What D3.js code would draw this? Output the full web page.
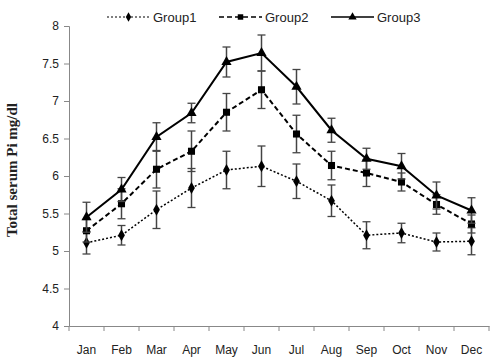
<!DOCTYPE html>
<html><head><meta charset="utf-8">
<script src="https://cdn.jsdelivr.net/npm/d3@7"></script>
<style>body{margin:0;background:#fff}</style>
</head><body>
<svg id="c" width="491" height="363"></svg>
<script>
const months = ["Jan","Feb","Mar","Apr","May","Jun","Jul","Aug","Sep","Oct","Nov","Dec"];
const group1 = [5.11,5.21,5.55,5.84,6.08,6.13,5.93,5.67,5.21,5.24,5.12,5.13];
const group1Err = [0.15,0.13,0.25,0.26,0.25,0.27,0.23,0.21,0.18,0.13,0.12,0.18];
const group2 = [5.27,5.63,6.09,6.33,6.85,7.15,6.56,6.14,6.04,5.92,5.62,5.36];
const group2Err = [0.15,0.2,0.25,0.27,0.25,0.25,0.25,0.19,0.18,0.12,0.13,0.12];
const group3 = [5.45,5.82,6.52,6.84,7.52,7.64,7.19,6.61,6.23,6.13,5.74,5.54];
const group3Err = [0.2,0.16,0.19,0.13,0.2,0.24,0.23,0.16,0.14,0.17,0.18,0.17];
const yTicks = [4,4.5,5,5.5,6,6.5,7,7.5,8];
const seriesNames = ["Group1","Group2","Group3"];

const svg = d3.select("#c");
const x = d3.scaleBand().domain(months).range([69,489]);
const y = d3.scaleLinear().domain([4,8]).range([326,26]);
const font = "'Liberation Sans', Arial, sans-serif";

// y axis
const ya = svg.append("g").attr("transform","translate(69,0)")
  .call(d3.axisLeft(y).tickValues(yTicks).tickSize(5).tickPadding(5).tickFormat(d=>d));
ya.select(".domain").attr("stroke","#888");
ya.selectAll(".tick line").attr("stroke","#888");
ya.selectAll("text").attr("font-family",font).attr("font-size",12).attr("fill","#222");

// x axis
const xa = svg.append("g").attr("transform","translate(0,326)")
  .call(d3.axisBottom(x).tickSize(0).tickPadding(19));
xa.select(".domain").attr("stroke","#888");
xa.selectAll("text").attr("font-family",font).attr("font-size",12).attr("fill","#222");
const bounds = months.map(m=>x(m)).concat([x(months[11])+x.bandwidth()]);
xa.selectAll(".bt").data(bounds).enter().append("line").attr("class","bt")
  .attr("x1",d=>d).attr("x2",d=>d).attr("y1",0).attr("y2",5).attr("stroke","#888");

// y label
svg.append("text").attr("transform","translate(17,170) rotate(-90)")
  .attr("text-anchor","middle").attr("font-family","'Liberation Serif', 'Times New Roman', serif")
  .attr("font-weight","bold").attr("font-size",15).attr("fill","#222")
  .text("Total serum Pi mg/dl");

const cx = m => x(m) + x.bandwidth()/2;
const series = [
  {name:"Group1", vals:group1, err:group1Err, dash:"2,2", w:1.5, marker:"diamond"},
  {name:"Group2", vals:group2, err:group2Err, dash:"5,3", w:2, marker:"square"},
  {name:"Group3", vals:group3, err:group3Err, dash:null, w:2, marker:"triangle"}
];
const sym = {diamond:d3.symbol().type(d3.symbolDiamond).size(40),
  square:d3.symbol().type(d3.symbolSquare).size(50),
  triangle:d3.symbol().type(d3.symbolTriangle).size(45)};
const legSym = {diamond:d3.symbol().type(d3.symbolDiamond).size(25),
  square:d3.symbol().type(d3.symbolSquare).size(30),
  triangle:d3.symbol().type(d3.symbolTriangle).size(30)};

series.forEach(s=>{
  const g = svg.append("g");
  months.forEach((m,i)=>{
    const xx = cx(m), lo = y(s.vals[i]-s.err[i]), hi = y(s.vals[i]+s.err[i]);
    g.append("line").attr("x1",xx).attr("x2",xx).attr("y1",lo).attr("y2",hi).attr("stroke","#444").attr("stroke-width",1.5);
    [lo,hi].forEach(yy=>g.append("line").attr("x1",xx-4).attr("x2",xx+4).attr("y1",yy).attr("y2",yy).attr("stroke","#444").attr("stroke-width",1.3));
  });
  const line = d3.line().x((d,i)=>cx(months[i])).y(d=>y(d));
  g.append("path").datum(s.vals).attr("d",line).attr("fill","none").attr("stroke","#000")
    .attr("stroke-width",s.w).attr("stroke-dasharray",s.dash);
  g.selectAll(".m").data(s.vals).enter().append("path")
    .attr("transform",(d,i)=>`translate(${cx(months[i])},${y(d)})`)
    .attr("d",sym[s.marker]).attr("fill","#000");
});

// legend
const legX = [107,219,331];
series.forEach((s,i)=>{
  const g = svg.append("g").attr("transform",`translate(${legX[i]},17)`);
  g.append("line").attr("x1",0).attr("x2",43).attr("stroke","#000").attr("stroke-width",s.w===2?1.5:1.2).attr("stroke-dasharray",s.dash);
  g.append("path").attr("transform","translate(21.5,0)").attr("d",legSym[s.marker]).attr("fill","#000");
  g.append("text").attr("x",46).attr("y",4.5).attr("font-family",font).attr("font-size",13).attr("fill","#222").text(s.name);
});
</script>
</body></html>
